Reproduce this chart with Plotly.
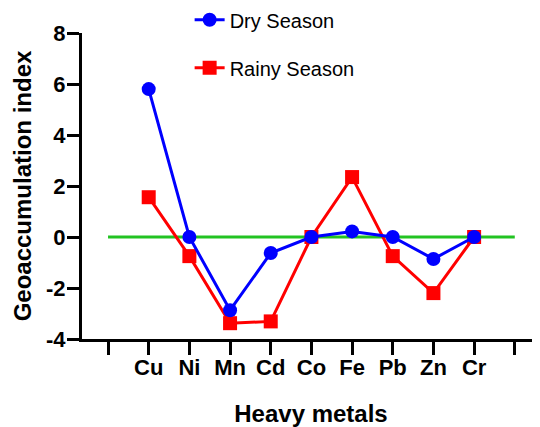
import plotly.graph_objects as go

metals = ["Cu", "Ni", "Mn", "Cd", "Co", "Fe", "Pb", "Zn", "Cr"]
dry_season = [5.8, 0.0, -2.87, -0.63, 0.0, 0.22, 0.0, -0.86, 0.0]
rainy_season = [1.56, -0.75, -3.38, -3.31, 0.0, 2.35, -0.75, -2.2, 0.0]
tick_labels = [""] + metals + [""]
y_ticks = [-4, -2, 0, 2, 4, 6, 8]
y_tick_labels = ["-4", "-2", "0", "2", "4", "6", "8"]
baseline = [0, 0]

x_pos = list(range(1, len(metals) + 1))
tick_pos = list(range(0, len(metals) + 2))

FONT = "Arial, Liberation Sans, sans-serif"

fig = go.Figure()
fig.add_trace(go.Scatter(
    x=[tick_pos[0], tick_pos[-1]], y=baseline, mode="lines",
    line=dict(color="#22c322", width=3), showlegend=False, hoverinfo="skip"))
fig.add_trace(go.Scatter(
    x=x_pos, y=rainy_season, mode="lines+markers", name="Rainy Season",
    line=dict(color="#ff0000", width=3),
    marker=dict(symbol="square", size=14, color="#ff0000"),
    legendgroup="b", legendrank=2))
fig.add_trace(go.Scatter(
    x=x_pos, y=dry_season, mode="lines+markers", name="Dry Season",
    line=dict(color="#0000ff", width=3),
    marker=dict(symbol="circle", size=14, color="#0000ff"),
    legendgroup="a", legendrank=1))

fig.update_layout(
    width=532, height=419,
    margin=dict(l=74, r=0, t=25, b=88, autoexpand=False),
    plot_bgcolor="white", paper_bgcolor="white",
    font=dict(family=FONT, color="black"),
    legend=dict(x=0.235, y=1.107, xanchor="left", yanchor="top",
                font=dict(size=20, family=FONT),
                tracegroupgap=19, traceorder="grouped",
                bgcolor="rgba(0,0,0,0)"),
    xaxis=dict(
        range=[-0.64, 10.62], tickmode="array", tickvals=tick_pos,
        ticktext=tick_labels, ticks="outside", ticklen=13, tickwidth=2.5,
        tickcolor="black", showline=True, linecolor="black", linewidth=3,
        showgrid=False, zeroline=False, automargin=False,
        ticklabelstandoff=-6,
        tickfont=dict(size=22, family=FONT, weight="bold"),
        title=dict(text="<b>Heavy metals</b>", font=dict(size=24, family=FONT), standoff=28)),
    yaxis=dict(
        range=[-4, 8], tickmode="array", tickvals=y_ticks, ticktext=y_tick_labels,
        ticks="outside", ticklen=12, tickwidth=2.5, tickcolor="black",
        showline=True, linecolor="black", linewidth=3,
        showgrid=False, zeroline=False, automargin=False,
        ticklabelstandoff=-3,
        tickfont=dict(size=22, family=FONT, weight="bold"),
        title=dict(text="<b>Geoaccumulation index</b>", font=dict(size=24, family=FONT), standoff=8)),
)

fig.write_html("out.html")
